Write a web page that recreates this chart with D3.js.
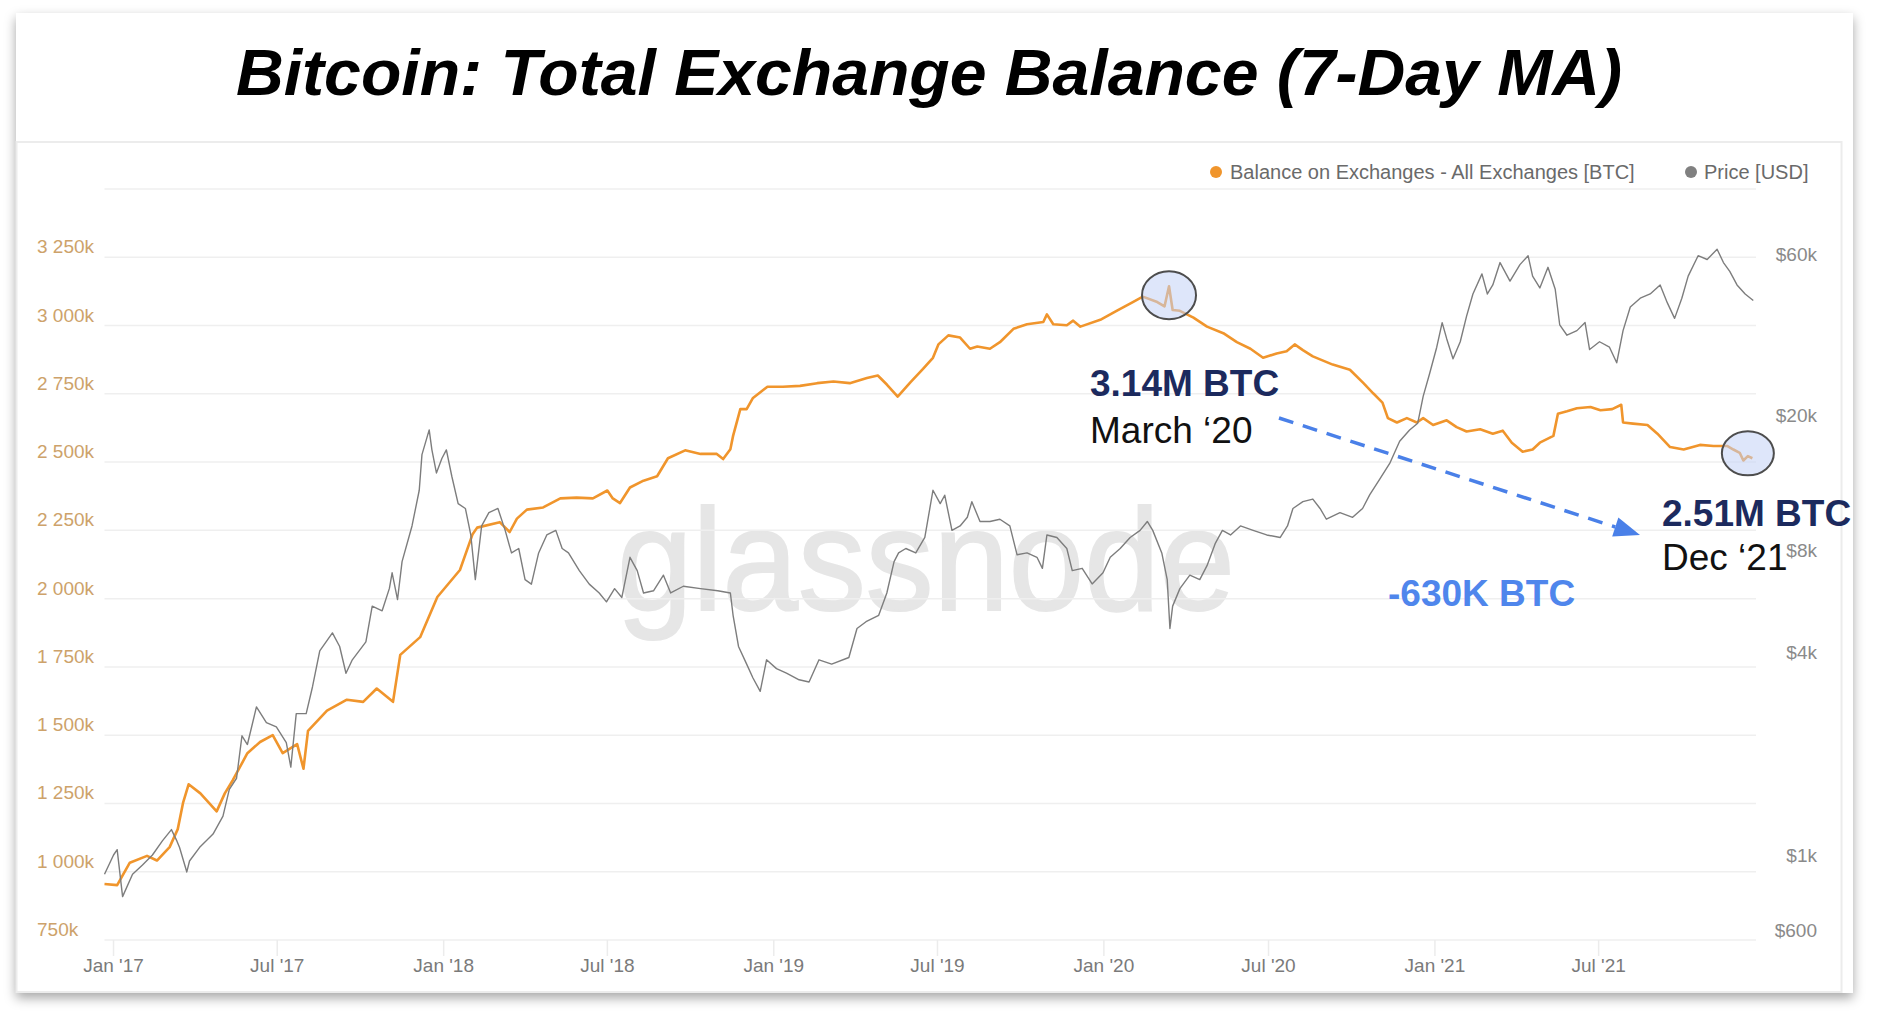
<!DOCTYPE html>
<html>
<head>
<meta charset="UTF-8">
<title>Bitcoin: Total Exchange Balance (7-Day MA)</title>
<style>
  html, body { margin: 0; padding: 0; background: #fff; }
  svg { display: block; }
  text { font-family: "Liberation Sans", Arial, Helvetica, sans-serif; }
</style>
</head>
<body>
<script src="https://cdn.jsdelivr.net/npm/d3@7/dist/d3.min.js"></script>
<script>

    // balance on exchanges, thousands of BTC (7-day MA)
    var balanceData = [
        ['2016-12-22', 955], ['2017-01-05', 951], ['2017-01-19', 1033], ['2017-02-07', 1058],
        ['2017-02-18', 1041], ['2017-03-04', 1090], ['2017-03-13', 1156], ['2017-03-19', 1254],
        ['2017-03-25', 1320], ['2017-04-07', 1287], ['2017-04-25', 1221], ['2017-05-04', 1287],
        ['2017-05-13', 1336], ['2017-05-29', 1434], ['2017-06-12', 1475], ['2017-06-26', 1500],
        ['2017-07-07', 1434], ['2017-07-23', 1467], ['2017-07-30', 1377], ['2017-08-04', 1516],
        ['2017-08-25', 1590], ['2017-09-16', 1630], ['2017-10-04', 1622], ['2017-10-19', 1671],
        ['2017-11-06', 1622], ['2017-11-14', 1794], ['2017-12-06', 1859], ['2017-12-25', 2006],
        ['2018-01-19', 2105], ['2018-02-02', 2236], ['2018-02-07', 2260], ['2018-03-04', 2280],
        ['2018-03-15', 2244], ['2018-03-23', 2293], ['2018-04-03', 2326], ['2018-04-21', 2334],
        ['2018-05-10', 2367], ['2018-05-28', 2370], ['2018-06-15', 2367], ['2018-07-01', 2396],
        ['2018-07-07', 2367], ['2018-07-15', 2350], ['2018-07-26', 2407], ['2018-08-10', 2432],
        ['2018-08-25', 2448], ['2018-09-06', 2514], ['2018-09-25', 2543], ['2018-10-12', 2530],
        ['2018-10-30', 2530], ['2018-11-06', 2511], ['2018-11-14', 2547], ['2018-11-17', 2596],
        ['2018-11-25', 2694], ['2018-12-02', 2694], ['2018-12-09', 2735], ['2018-12-25', 2776],
        ['2019-01-11', 2776], ['2019-01-30', 2779], ['2019-02-18', 2789], ['2019-03-08', 2795],
        ['2019-03-26', 2789], ['2019-04-14', 2808], ['2019-04-26', 2817], ['2019-05-06', 2784],
        ['2019-05-18', 2740], ['2019-06-01', 2792], ['2019-06-15', 2841], ['2019-06-26', 2882],
        ['2019-07-02', 2931], ['2019-07-13', 2964], ['2019-07-26', 2956], ['2019-08-06', 2915],
        ['2019-08-14', 2923], ['2019-08-28', 2915], ['2019-09-08', 2939], ['2019-09-23', 2988],
        ['2019-10-08', 3005], ['2019-10-26', 3013], ['2019-10-30', 3041], ['2019-11-06', 3005],
        ['2019-11-21', 3001], ['2019-11-28', 3018], ['2019-12-06', 2996], ['2019-12-28', 3021],
        ['2020-01-15', 3054], ['2020-02-02', 3086], ['2020-02-13', 3106], ['2020-02-29', 3086],
        ['2020-03-08', 3070], ['2020-03-13', 3144], ['2020-03-17', 3057], ['2020-03-25', 3054],
        ['2020-04-09', 3029], ['2020-04-24', 2996], ['2020-05-12', 2972], ['2020-05-27', 2939],
        ['2020-06-11', 2915], ['2020-06-25', 2882], ['2020-07-10', 2898], ['2020-07-21', 2906],
        ['2020-07-30', 2931], ['2020-08-08', 2910], ['2020-08-19', 2887], ['2020-09-10', 2857],
        ['2020-09-29', 2838], ['2020-10-14', 2789], ['2020-10-25', 2751], ['2020-11-04', 2718],
        ['2020-11-10', 2661], ['2020-11-20', 2645], ['2020-12-01', 2661], ['2020-12-12', 2645],
        ['2020-12-19', 2661], ['2020-12-30', 2636], ['2021-01-14', 2653], ['2021-01-25', 2628],
        ['2021-02-05', 2612], ['2021-02-20', 2620], ['2021-03-06', 2604], ['2021-03-17', 2615],
        ['2021-03-27', 2571], ['2021-04-08', 2538], ['2021-04-19', 2546], ['2021-04-27', 2571],
        ['2021-05-12', 2596], ['2021-05-17', 2677], ['2021-05-27', 2686], ['2021-06-07', 2697],
        ['2021-06-22', 2702], ['2021-07-03', 2690], ['2021-07-16', 2694], ['2021-07-26', 2710],
        ['2021-07-28', 2645], ['2021-08-08', 2641], ['2021-08-24', 2636], ['2021-09-04', 2604],
        ['2021-09-18', 2555], ['2021-10-03', 2546], ['2021-10-21', 2563], ['2021-11-05', 2559],
        ['2021-11-20', 2559], ['2021-11-27', 2546], ['2021-12-04', 2534], ['2021-12-08', 2506],
        ['2021-12-13', 2522], ['2021-12-18', 2514]
    ];

    // BTC price in USD
    var priceData = [
        ['2016-12-22', 877], ['2017-01-01', 1000], ['2017-01-05', 1037], ['2017-01-11', 753],
        ['2017-01-22', 877], ['2017-02-02', 934], ['2017-02-13', 1000], ['2017-02-24', 1101],
        ['2017-03-06', 1189], ['2017-03-12', 1101], ['2017-03-15', 1052], ['2017-03-23', 891],
        ['2017-03-26', 960], ['2017-04-06', 1052], ['2017-04-21', 1153], ['2017-05-02', 1303],
        ['2017-05-09', 1564], ['2017-05-17', 1687], ['2017-05-23', 2253], ['2017-05-29', 2123],
        ['2017-06-08', 2742], ['2017-06-19', 2466], ['2017-06-30', 2393], ['2017-07-11', 2150],
        ['2017-07-16', 1820], ['2017-07-22', 2620], ['2017-08-02', 2620], ['2017-08-09', 3147],
        ['2017-08-17', 4018], ['2017-08-31', 4540], ['2017-09-08', 4140], ['2017-09-15', 3450],
        ['2017-09-22', 3780], ['2017-10-07', 4270], ['2017-10-14', 5450], ['2017-10-25', 5280],
        ['2017-11-02', 6150], ['2017-11-05', 6840], ['2017-11-11', 5700], ['2017-11-16', 7380],
        ['2017-11-27', 9410], ['2017-12-05', 12000], ['2017-12-08', 15300], ['2017-12-16', 18100],
        ['2017-12-19', 15800], ['2017-12-24', 13500], ['2017-12-30', 14900], ['2018-01-04', 15800],
        ['2018-01-10', 13200], ['2018-01-17', 10960], ['2018-01-25', 10600], ['2018-01-31', 8850],
        ['2018-02-05', 6530], ['2018-02-12', 9410], ['2018-02-20', 10300], ['2018-03-02', 10600],
        ['2018-03-10', 9130], ['2018-03-17', 7830], ['2018-03-25', 8070], ['2018-04-01', 6530],
        ['2018-04-08', 6330], ['2018-04-16', 7830], ['2018-04-25', 8850], ['2018-05-05', 9130],
        ['2018-05-12', 8070], ['2018-05-19', 7830], ['2018-05-31', 6940], ['2018-06-11', 6330],
        ['2018-06-22', 5960], ['2018-06-30', 5610], ['2018-07-09', 6140], ['2018-07-17', 5780],
        ['2018-07-26', 7600], ['2018-08-03', 6940], ['2018-08-10', 5960], ['2018-08-21', 6050],
        ['2018-09-01', 6730], ['2018-09-09', 5960], ['2018-09-23', 6240], ['2018-10-12', 6140],
        ['2018-10-31', 6050], ['2018-11-14', 5960], ['2018-11-17', 5120], ['2018-11-23', 4140],
        ['2018-12-02', 3670], ['2018-12-09', 3340], ['2018-12-17', 3050], ['2018-12-24', 3780],
        ['2019-01-04', 3560], ['2019-01-15', 3450], ['2019-01-29', 3300], ['2019-02-09', 3250],
        ['2019-02-20', 3780], ['2019-03-06', 3670], ['2019-03-25', 3840], ['2019-04-03', 4680],
        ['2019-04-13', 4900], ['2019-04-27', 5120], ['2019-05-06', 5960], ['2019-05-14', 7380],
        ['2019-05-19', 7830], ['2019-05-27', 8070], ['2019-06-07', 7830], ['2019-06-17', 8700],
        ['2019-06-26', 12000], ['2019-07-04', 10960], ['2019-07-09', 11600], ['2019-07-17', 9130],
        ['2019-07-26', 9410], ['2019-08-03', 9980], ['2019-08-08', 11100], ['2019-08-17', 9700],
        ['2019-08-28', 9700], ['2019-09-08', 9850], ['2019-09-19', 9410], ['2019-09-27', 7730],
        ['2019-10-08', 7830], ['2019-10-19', 7600], ['2019-10-25', 7050], ['2019-10-30', 8850],
        ['2019-11-10', 8700], ['2019-11-21', 8070], ['2019-11-27', 6940], ['2019-12-08', 7050],
        ['2019-12-19', 6340], ['2019-12-31', 6840], ['2020-01-08', 7600], ['2020-01-19', 8070],
        ['2020-01-30', 8700], ['2020-02-10', 9130], ['2020-02-18', 9700], ['2020-02-24', 9130],
        ['2020-03-05', 7830], ['2020-03-11', 6530], ['2020-03-14', 4680], ['2020-03-17', 5450],
        ['2020-03-25', 6140], ['2020-04-05', 6730], ['2020-04-16', 6530], ['2020-04-24', 7180],
        ['2020-05-03', 8340], ['2020-05-11', 9130], ['2020-05-20', 8850], ['2020-05-31', 9410],
        ['2020-06-14', 9130], ['2020-06-29', 8850], ['2020-07-14', 8700], ['2020-07-22', 9410],
        ['2020-07-28', 10600], ['2020-08-08', 11100], ['2020-08-19', 11300], ['2020-08-27', 10600],
        ['2020-09-03', 9850], ['2020-09-18', 10300], ['2020-10-02', 9980], ['2020-10-13', 10600],
        ['2020-10-21', 11650], ['2020-11-01', 12950], ['2020-11-12', 14400], ['2020-11-23', 16750],
        ['2020-12-04', 18100], ['2020-12-13', 18950], ['2020-12-19', 22750], ['2020-12-26', 26500],
        ['2021-01-03', 31800], ['2021-01-09', 37600], ['2021-01-14', 33700], ['2021-01-21', 29400],
        ['2021-01-29', 33000], ['2021-02-05', 39300], ['2021-02-12', 45700], ['2021-02-22', 52400],
        ['2021-02-28', 45700], ['2021-03-06', 48600], ['2021-03-14', 56600], ['2021-03-25', 49900],
        ['2021-04-05', 55800], ['2021-04-14', 59300], ['2021-04-19', 51600], ['2021-04-27', 47600],
        ['2021-05-06', 54800], ['2021-05-14', 47200], ['2021-05-19', 37000], ['2021-05-27', 34500],
        ['2021-06-07', 35600], ['2021-06-16', 37600], ['2021-06-21', 31300], ['2021-07-02', 33000],
        ['2021-07-13', 31800], ['2021-07-21', 28600], ['2021-07-28', 35600], ['2021-08-05', 41800],
        ['2021-08-16', 44400], ['2021-08-27', 45700], ['2021-09-07', 48600], ['2021-09-15', 43000],
        ['2021-09-23', 38700], ['2021-10-01', 44400], ['2021-10-08', 51600], ['2021-10-19', 59300],
        ['2021-10-29', 57800], ['2021-11-09', 62000], ['2021-11-16', 56600], ['2021-11-23', 53300],
        ['2021-12-01', 48600], ['2021-12-10', 45700], ['2021-12-19', 43700]
    ];

    var balanceTicks = [750, 1000, 1250, 1500, 1750, 2000, 2250, 2500, 2750, 3000, 3250];
    var balanceGrid = [750, 1000, 1250, 1500, 1750, 2000, 2250, 2500, 2750, 3000, 3250, 3500];
    var priceTicks = [600, 1000, 4000, 8000, 20000, 60000];
    var priceTickLabels = ['$600', '$1k', '$4k', '$8k', '$20k', '$60k'];
    var dateTicks = ['2017-01-01', '2017-07-01', '2018-01-01', '2018-07-01', '2019-01-01',
                     '2019-07-01', '2020-01-01', '2020-07-01', '2021-01-01', '2021-07-01'];
    var dateTickLabels = ["Jan '17", "Jul '17", "Jan '18", "Jul '18", "Jan '19",
                          "Jul '19", "Jan '20", "Jul '20", "Jan '21", "Jul '21"];

    var legendItems = ['Balance on Exchanges - All Exchanges [BTC]', 'Price [USD]'];

    var w = 1880,
        h = 1020;
    var plot = {left: 104.5, right: 1756, top: 189, bottom: 940};
    var orange = '#f0952c',
        gray = '#7d7d7d';

    var parse = d3.timeParse('%Y-%m-%d');
    var balance = balanceData.map(function(d) { return {date: parse(d[0]), value: d[1]}; });
    var price = priceData.map(function(d) { return {date: parse(d[0]), value: d[1]}; });

    var x = d3.scaleTime()
            .domain([parse('2016-12-22'), parse('2021-12-22')])
            .range([plot.left, plot.right]);
    var yBal = d3.scaleLinear()
            .domain([750, 3500])
            .range([plot.bottom, plot.top]);
    var yPrice = d3.scaleLog()
            .domain([600, 60000])
            .range([930, 254]);

    var svg = d3.select('body')
            .append('svg')
            .attr('width', w)
            .attr('height', h);

    var defs = svg.append('defs');
    var f = defs.append('filter').attr('id', 'shadow')
            .attr('x', '-5%').attr('y', '-5%').attr('width', '110%').attr('height', '112%');
    f.append('feDropShadow')
            .attr('dx', 0).attr('dy', 5)
            .attr('stdDeviation', 6)
            .attr('flood-color', '#000')
            .attr('flood-opacity', 0.35);

    // card
    svg.append('rect')
            .attr('x', 16).attr('y', 13)
            .attr('width', 1837).attr('height', 980)
            .attr('fill', '#fff')
            .attr('filter', 'url(#shadow)');
    svg.append('rect')
            .attr('x', 16.5).attr('y', 142)
            .attr('width', 1825).attr('height', 850)
            .attr('fill', 'none')
            .attr('stroke', '#ececec')
            .attr('stroke-width', 2);

    // title
    svg.append('text')
            .text('Bitcoin: Total Exchange Balance (7-Day MA)')
            .attr('x', 929)
            .attr('y', 95)
            .attr('text-anchor', 'middle')
            .attr('font-size', 64)
            .attr('font-weight', 'bold')
            .attr('font-style', 'italic')
            .attr('textLength', 1386)
            .attr('lengthAdjust', 'spacingAndGlyphs')
            .attr('fill', '#000');

    // watermark
    svg.append('text')
            .text('glassnode')
            .attr('x', 617)
            .attr('y', 610)
            .attr('font-size', 144)
            .attr('textLength', 618)
            .attr('lengthAdjust', 'spacingAndGlyphs')
            .attr('fill', '#e6e6e6')
            .attr('stroke', '#e6e6e6')
            .attr('stroke-width', 2);

    // grid
    svg.selectAll('line.grid')
            .data(balanceGrid)
            .enter()
            .append('line')
            .attr('class', 'grid')
            .attr('x1', plot.left)
            .attr('x2', plot.right)
            .attr('y1', function(d) { return yBal(d); })
            .attr('y2', function(d) { return yBal(d); })
            .attr('stroke', '#efefef')
            .attr('stroke-width', 1.5);

    // left axis labels
    var fmt = d3.formatLocale({decimal: '.', thousands: ' ', grouping: [3], currency: ['', '']}).format(',');
    svg.selectAll('text.ylab')
            .data(balanceTicks)
            .enter()
            .append('text')
            .attr('class', 'ylab')
            .text(function(d) { return fmt(d) + 'k'; })
            .attr('x', 37)
            .attr('y', function(d) { return yBal(d) - 4; })
            .attr('font-size', 19)
            .attr('fill', '#cda26a');

    // right axis labels
    svg.selectAll('text.plab')
            .data(priceTicks)
            .enter()
            .append('text')
            .attr('class', 'plab')
            .text(function(d, i) { return priceTickLabels[i]; })
            .attr('x', 1817)
            .attr('y', function(d) { return yPrice(d) + 7; })
            .attr('text-anchor', 'end')
            .attr('font-size', 19)
            .attr('fill', '#8a8a8a');

    // x axis
    var xt = svg.append('g');
    xt.selectAll('line')
            .data(dateTicks)
            .enter()
            .append('line')
            .attr('x1', function(d) { return x(parse(d)); })
            .attr('x2', function(d) { return x(parse(d)); })
            .attr('y1', plot.bottom)
            .attr('y2', plot.bottom + 16)
            .attr('stroke', '#ececec')
            .attr('stroke-width', 1.5);
    xt.selectAll('text')
            .data(dateTicks)
            .enter()
            .append('text')
            .text(function(d, i) { return dateTickLabels[i]; })
            .attr('x', function(d) { return x(parse(d)); })
            .attr('y', 972)
            .attr('text-anchor', 'middle')
            .attr('font-size', 19)
            .attr('fill', '#7a7a7a');

    // legend
    var lg = svg.append('g');
    lg.append('circle').attr('cx', 1216).attr('cy', 172).attr('r', 6).attr('fill', orange);
    lg.append('text').text(legendItems[0])
            .attr('x', 1230).attr('y', 179)
            .attr('font-size', 20).attr('fill', '#6a6a6a');
    lg.append('circle').attr('cx', 1691).attr('cy', 172).attr('r', 6).attr('fill', '#808080');
    lg.append('text').text(legendItems[1])
            .attr('x', 1704).attr('y', 179)
            .attr('font-size', 20).attr('fill', '#6a6a6a');

    // series
    var balLine = d3.line()
            .x(function(d) { return x(d.date); })
            .y(function(d) { return yBal(d.value); });
    var priceLine = d3.line()
            .x(function(d) { return x(d.date); })
            .y(function(d) { return yPrice(d.value); });

    svg.append('path')
            .datum(balance)
            .attr('d', balLine)
            .attr('fill', 'none')
            .attr('stroke', orange)
            .attr('stroke-width', 2.6)
            .attr('stroke-linejoin', 'round');

    svg.append('path')
            .datum(price)
            .attr('d', priceLine)
            .attr('fill', 'none')
            .attr('stroke', gray)
            .attr('stroke-width', 1.4)
            .attr('stroke-linejoin', 'round');

    // highlight ellipses
    var marks = [
        {date: '2020-03-13', value: 3111, rx: 27, ry: 24},
        {date: '2021-12-13', value: 2532, rx: 26, ry: 22}
    ];
    svg.selectAll('ellipse')
            .data(marks)
            .enter()
            .append('ellipse')
            .attr('cx', function(d) { return x(parse(d.date)); })
            .attr('cy', function(d) { return yBal(d.value); })
            .attr('rx', function(d) { return d.rx; })
            .attr('ry', function(d) { return d.ry; })
            .attr('fill', '#c3d2f5')
            .attr('fill-opacity', 0.55)
            .attr('stroke', '#4d4d4d')
            .attr('stroke-width', 2);

    // arrow
    var blue = '#4a80e8';
    var a0 = [1279, 418], a1 = [1640, 535];
    var dx = a1[0] - a0[0], dy = a1[1] - a0[1], len = Math.sqrt(dx * dx + dy * dy);
    var ux = dx / len, uy = dy / len;
    var head = 26, half = 10;
    svg.append('line')
            .attr('x1', a0[0]).attr('y1', a0[1])
            .attr('x2', a1[0] - ux * head).attr('y2', a1[1] - uy * head)
            .attr('stroke', blue)
            .attr('stroke-width', 3.5)
            .attr('stroke-dasharray', '15 10');
    svg.append('path')
            .attr('d', 'M' + a1[0] + ',' + a1[1] +
                       'L' + (a1[0] - ux * head - uy * half) + ',' + (a1[1] - uy * head + ux * half) +
                       'L' + (a1[0] - ux * head + uy * half) + ',' + (a1[1] - uy * head - ux * half) + 'Z')
            .attr('fill', blue);

    // annotation text
    var notes = [
        {t: '3.14M BTC', x: 1090, y: 396, c: '#1c2a5e', b: true},
        {t: 'March \u201820', x: 1090, y: 443, c: '#111', b: false},
        {t: '2.51M BTC', x: 1662, y: 526, c: '#1c2a5e', b: true},
        {t: 'Dec \u201821', x: 1662, y: 570, c: '#111', b: false},
        {t: '-630K BTC', x: 1388, y: 606, c: '#4f86ec', b: true}
    ];
    svg.selectAll('text.note')
            .data(notes)
            .enter()
            .append('text')
            .attr('class', 'note')
            .text(function(d) { return d.t; })
            .attr('x', function(d) { return d.x; })
            .attr('y', function(d) { return d.y; })
            .attr('font-size', 37)
            .attr('font-weight', function(d) { return d.b ? 'bold' : 'normal'; })
            .attr('fill', function(d) { return d.c; });

</script>
</body>
</html>
